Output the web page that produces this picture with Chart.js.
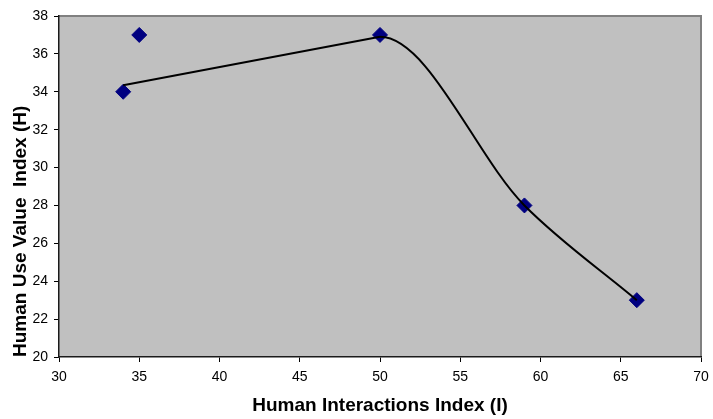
<!DOCTYPE html>
<html>
<head>
<meta charset="utf-8">
<title>Human Use Value vs Human Interactions</title>
<script src="https://cdn.jsdelivr.net/npm/chart.js@4.4.1/dist/chart.umd.min.js"></script>
<style>
  html, body { margin: 0; padding: 0; background: #ffffff; }
  #wrap { width: 713px; height: 419px; }
</style>
</head>
<body>
<div id="wrap"><canvas id="chart" width="713" height="419"></canvas></div>
<script>
/* global Chart */
// Observed sites (diamond markers)
const siteX = [34, 35, 50, 59, 66];
const siteY = [34, 37, 37, 28, 23];

// Smoothed curve series
const curveX = [34, 50, 59, 66];
const curveY = [34.35, 36.9, 28, 23];

// Axis ranges / tick steps
const xTicks = [30, 35, 40, 45, 50, 55, 60, 65, 70];
const yTicks = [20, 22, 24, 26, 28, 30, 32, 34, 36, 38];

const xTitle = 'Human Interactions Index (I)';
const yTitle = 'Human Use Value  Index (H)';

const FONT = '"Liberation Sans", Arial, Helvetica, sans-serif';
const PLOT_BG = '#c0c0c0';
const MARKER = '#000080';

function toPoints(xs, ys) {
  return xs.map((x, i) => ({ x, y: ys[i] }));
}

const curvePts = toPoints(curveX, curveY);

// Grey plot area plus the darker top/right frame, like the old Excel look.
const plotFrame = {
  id: 'plotFrame',
  beforeDraw(chart) {
    const { ctx, chartArea: a } = chart;
    ctx.save();
    ctx.fillStyle = PLOT_BG;
    ctx.fillRect(a.left, a.top, a.right - a.left, a.bottom - a.top);
    ctx.strokeStyle = '#808080';
    ctx.lineWidth = 2;
    ctx.beginPath();
    ctx.moveTo(a.left, a.top);
    ctx.lineTo(a.right, a.top);
    ctx.lineTo(a.right, a.bottom);
    ctx.stroke();
    ctx.restore();
  },
};

const tickFont = { family: FONT, size: 14 };
const titleFont = { family: FONT, size: 19, weight: 'bold' };

new Chart(document.getElementById('chart'), {
  type: 'scatter',
  data: {
    datasets: [
      {
        // straight run up to the peak
        label: 'curve-a',
        data: curvePts.slice(0, 2),
        showLine: true,
        tension: 0,
        borderColor: '#000000',
        borderWidth: 2,
        pointRadius: 0,
        order: 0,
      },
      {
        // smoothed run after the peak (first segment hidden, drawn by curve-a)
        label: 'curve-b',
        data: curvePts,
        showLine: true,
        cubicInterpolationMode: 'monotone',
        borderColor: '#000000',
        borderWidth: 2,
        pointRadius: 0,
        segment: {
          borderColor: (c) => (c.p0DataIndex === 0 ? 'rgba(0,0,0,0)' : '#000000'),
        },
        order: 1,
      },
      {
        label: 'sites',
        data: toPoints(siteX, siteY),
        pointStyle: 'rectRot',
        pointRadius: 7.5,
        pointBackgroundColor: MARKER,
        pointBorderColor: MARKER,
        pointBorderWidth: 1,
        order: 2,
      },
    ],
  },
  options: {
    responsive: false,
    animation: false,
    events: [],
    layout: { padding: { left: 0, right: 12, top: 16, bottom: 0 } },
    plugins: {
      legend: { display: false },
      tooltip: { enabled: false },
    },
    scales: {
      x: {
        type: 'linear',
        min: xTicks[0],
        max: xTicks[xTicks.length - 1],
        afterBuildTicks: (s) => { s.ticks = xTicks.map((v) => ({ value: v })); },
        afterFit: (s) => {
          s.height = 62;
          // let the "70" label hang into the right margin
          s.paddingLeft = 0;
          s.paddingRight = 0;
        },
        grid: { drawOnChartArea: false, tickLength: 5, tickColor: '#000000' },
        border: { color: '#1a1a1a', width: 1.5 },
        ticks: { color: '#000000', font: tickFont, padding: 7, maxRotation: 0 },
        title: {
          display: true,
          text: xTitle,
          color: '#000000',
          font: titleFont,
          padding: { top: 0, bottom: 2 },
        },
      },
      y: {
        type: 'linear',
        min: yTicks[0],
        max: yTicks[yTicks.length - 1],
        afterBuildTicks: (s) => { s.ticks = yTicks.map((v) => ({ value: v })); },
        afterFit: (s) => { s.width = 59; },
        grid: { drawOnChartArea: false, tickLength: 5, tickColor: '#000000' },
        border: { color: '#1a1a1a', width: 1.5 },
        ticks: { color: '#000000', font: tickFont, padding: 6 },
        title: {
          display: true,
          text: yTitle,
          align: 'start',
          color: '#000000',
          font: titleFont,
          padding: { top: 9, bottom: 0 },
        },
      },
    },
  },
  plugins: [plotFrame],
});
</script>
</body>
</html>
